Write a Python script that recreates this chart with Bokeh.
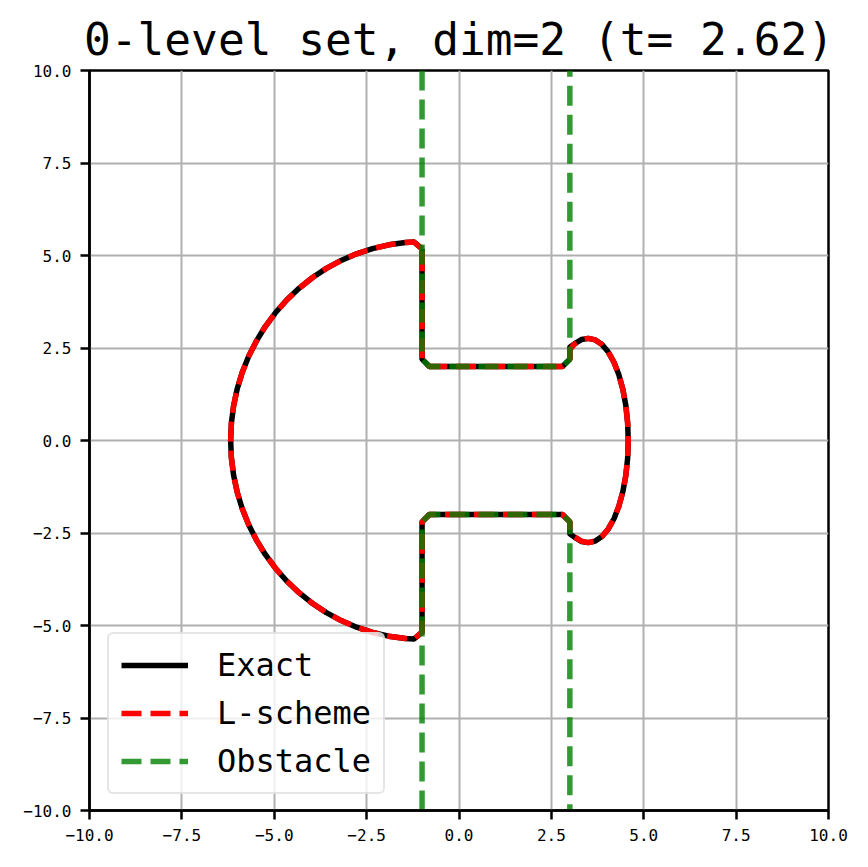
from bokeh.plotting import figure
from bokeh.models import Range1d, FixedTicker, Legend, LegendItem, Title
from bokeh.embed import file_html
from bokeh.resources import INLINE

# ---- data ----
tick_values = [-10.0, -7.5, -5.0, -2.5, 0.0, 2.5, 5.0, 7.5, 10.0]
tick_labels = ["\u221210.0", "\u22127.5", "\u22125.0", "\u22122.5", "0.0", "2.5", "5.0", "7.5", "10.0"]

# Exact 0-level set (closed contour)
exact_x = [-1.0, -1.217, -1.451, -1.900, -2.341, -2.772, -3.189, -3.590, -3.971, -4.330, -4.663,
           -4.968, -5.243, -5.486, -5.695, -5.868, -6.004, -6.101, -6.160, -6.180,
           -6.160, -6.101, -6.004, -5.868, -5.695, -5.486, -5.243, -4.968, -4.663, -4.330,
           -3.971, -3.590, -3.189, -2.772, -2.341, -1.900, -1.451, -1.217, -1.0,
           -1.0, -0.8, 2.8, 3.0, 3.0, 3.131, 3.312, 3.5, 3.688, 3.869, 4.04, 4.194, 4.327,
           4.435, 4.515, 4.564, 4.58, 4.564, 4.515, 4.435, 4.327, 4.194, 4.04, 3.869, 3.688,
           3.5, 3.312, 3.131, 3.0, 3.0, 2.8, -0.8, -1.0, -1.0]
exact_y = [5.18, 5.365, 5.350, 5.288, 5.187, 5.046, 4.867, 4.651, 4.399, 4.114, 3.797,
           3.452, 3.080, 2.685, 2.269, 1.837, 1.390, 0.933, 0.468, 0.0,
           -0.468, -0.933, -1.390, -1.837, -2.269, -2.685, -3.080, -3.452, -3.797, -4.114,
           -4.399, -4.651, -4.867, -5.046, -5.187, -5.288, -5.350, -5.365, -5.18,
           -2.2, -2.0, -2.0, -2.2, -2.52, -2.62, -2.728, -2.76, -2.718, -2.594, -2.39, -2.114, -1.774,
           -1.38, -0.944, -0.479, 0.0, 0.479, 0.944, 1.38, 1.774, 2.114, 2.39, 2.594, 2.718,
           2.76, 2.728, 2.62, 2.52, 2.2, 2.0, 2.0, 2.2, 5.18]

# L-scheme 0-level set
lscheme_x = [-1.0, -1.217, -1.451, -1.900, -2.341, -2.772, -3.189, -3.590, -3.971, -4.330, -4.663,
             -4.968, -5.243, -5.486, -5.695, -5.868, -6.004, -6.101, -6.160, -6.180,
             -6.160, -6.101, -6.004, -5.868, -5.695, -5.486, -5.243, -4.968, -4.663, -4.330,
             -3.971, -3.590, -3.189, -2.772, -2.341, -1.900, -1.451, -1.217, -1.0,
             -1.0, -0.8, 2.8, 3.0, 3.0, 3.12, 3.312, 3.5, 3.688, 3.869, 4.04, 4.194, 4.327,
             4.435, 4.515, 4.564, 4.58, 4.564, 4.515, 4.435, 4.327, 4.194, 4.04, 3.869, 3.688,
             3.5, 3.312, 3.12, 3.0, 3.0, 2.8, -0.8, -1.0, -1.0]
lscheme_y = [5.18, 5.365, 5.350, 5.288, 5.187, 5.046, 4.867, 4.651, 4.399, 4.114, 3.797,
             3.452, 3.080, 2.685, 2.269, 1.837, 1.390, 0.933, 0.468, 0.0,
             -0.468, -0.933, -1.390, -1.837, -2.269, -2.685, -3.080, -3.452, -3.797, -4.114,
             -4.399, -4.651, -4.867, -5.046, -5.187, -5.288, -5.350, -5.365, -5.18,
             -2.2, -2.0, -2.0, -2.2, -2.45, -2.6, -2.718, -2.76, -2.718, -2.594, -2.39, -2.114, -1.774,
             -1.38, -0.944, -0.479, 0.0, 0.479, 0.944, 1.38, 1.774, 2.114, 2.39, 2.594, 2.718,
             2.76, 2.718, 2.6, 2.45, 2.2, 2.0, 2.0, 2.2, 5.18]

# Obstacle (two open curves)
obstacle_top_x = [-1.0, -1.0, -0.8, 2.8, 3.0, 3.0]
obstacle_top_y = [10.0, 2.2, 2.0, 2.0, 2.2, 10.0]
obstacle_bot_x = [-1.0, -1.0, -0.8, 2.8, 3.0, 3.0]
obstacle_bot_y = [-10.0, -2.2, -2.0, -2.0, -2.2, -10.0]

title_text = "0-level set, dim=2 (t= 2.62)"
legend_labels = ["Exact", "L-scheme", "Obstacle"]

MONO = "DejaVu Sans Mono"

p = figure(width=858, height=855, output_backend="svg", toolbar_location=None,
           x_range=Range1d(-10, 10), y_range=Range1d(-10, 10),
           min_border_left=89, min_border_right=30, min_border_top=70, min_border_bottom=45)

p.title = Title(text=title_text, align="center", text_font=MONO, text_font_size="44.5px",
                text_font_style="normal", text_color="black", standoff=12)

for ax in (p.xaxis[0], p.yaxis[0]):
    ax.ticker = FixedTicker(ticks=tick_values)
    ax.major_label_overrides = {v: s for v, s in zip(tick_values, tick_labels)}
    ax.major_label_text_font = MONO
    ax.major_label_text_font_size = "16px"
    ax.major_label_text_color = "black"
    ax.axis_line_color = "black"
    ax.axis_line_width = 2.5
    ax.major_tick_line_color = "black"
    ax.major_tick_line_width = 2.5
    ax.major_tick_out = 9
    ax.major_tick_in = 0
    ax.minor_tick_line_color = None
    ax.major_label_standoff = 9

p.outline_line_color = "black"
p.outline_line_width = 2.5
p.outline_line_alpha = 1.0

for g in (p.xgrid[0], p.ygrid[0]):
    g.ticker = FixedTicker(ticks=tick_values)
    g.grid_line_color = "#b0b0b0"
    g.grid_line_width = 2

r_exact = p.line(exact_x, exact_y, line_color="black", line_width=5.5, line_join="round")
r_ls = p.line(lscheme_x, lscheme_y, line_color="red", line_width=5.5, line_dash="20 9",
              line_join="round")
r_ob1 = p.line(obstacle_top_x, obstacle_top_y, line_color="green", line_alpha=0.8, line_width=5.5,
               line_dash="20 9", line_join="round")
r_ob2 = p.line(obstacle_bot_x, obstacle_bot_y, line_color="green", line_alpha=0.8, line_width=5.5,
               line_dash="20 9", line_join="round")

legend = Legend(items=[LegendItem(label=legend_labels[0], renderers=[r_exact]),
                       LegendItem(label=legend_labels[1], renderers=[r_ls]),
                       LegendItem(label=legend_labels[2], renderers=[r_ob1])],
                location=(18, 16))
legend.label_text_font = MONO
legend.label_text_font_size = "32px"
legend.label_text_color = "black"
legend.glyph_width = 67
legend.glyph_height = 38
legend.label_height = 38
legend.label_standoff = 29
legend.padding = 12
legend.spacing = 10
legend.margin = 0
legend.border_line_color = "#cccccc"
legend.border_line_width = 2
legend.background_fill_alpha = 0.8
if "border_radius" in Legend.properties():
    legend.border_radius = 6
p.add_layout(legend, "center")

open("out.html", "w").write(file_html(p, INLINE))
